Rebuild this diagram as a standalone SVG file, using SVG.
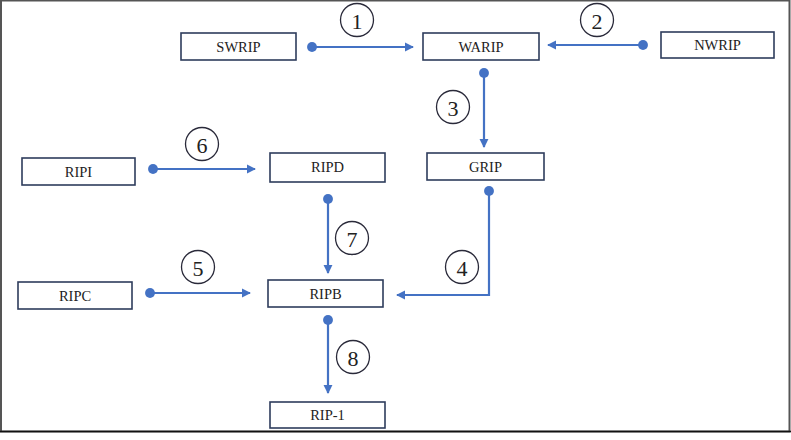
<svg xmlns="http://www.w3.org/2000/svg" width="791" height="440" viewBox="0 0 791 440">
<style>
.box{fill:#fff;stroke:#2e3c5c;stroke-width:1.6}
.lbl{font-family:"Liberation Serif","Times New Roman",serif;font-size:14.5px;fill:#222;text-anchor:middle;dominant-baseline:central}
.con{stroke:#4472c4;stroke-width:2.2;fill:none;marker-start:url(#dot);marker-end:url(#arr)}
.num{fill:#fff;stroke:#2a2a3a;stroke-width:1.3}
.numt{font-family:"Liberation Serif","Times New Roman",serif;font-size:22px;fill:#222;text-anchor:middle;dominant-baseline:central}
</style>
<defs>
<marker id="dot" viewBox="0 0 10 10" refX="5" refY="5" markerWidth="4.5" markerHeight="4.5" markerUnits="strokeWidth"><circle cx="5" cy="5" r="5" fill="#4472c4"/></marker>
<marker id="arr" viewBox="0 0 10 10" refX="9" refY="5" markerWidth="4.2" markerHeight="4.2" markerUnits="strokeWidth" orient="auto"><path d="M0,0 L10,5 L0,10 z" fill="#4472c4"/></marker>
</defs>
<rect x="0" y="0" width="791" height="440" fill="#fff"/>
<rect x="1" y="0.5" width="788.5" height="431" fill="none" stroke="#555" stroke-width="2"/>
<line x1="0" y1="431.5" x2="791" y2="431.5" stroke="#111" stroke-width="1.5"/>
<g id="connectors">
<line class="con" x1="312" y1="47" x2="413" y2="47"/>
<line class="con" x1="643" y1="45" x2="548" y2="45"/>
<line class="con" x1="484" y1="73" x2="484" y2="147"/>
<polyline class="con" points="489,191 489,295 397,295"/>
<line class="con" x1="153" y1="169" x2="255" y2="169"/>
<line class="con" x1="328" y1="199" x2="328" y2="273"/>
<line class="con" x1="150" y1="293" x2="250" y2="293"/>
<line class="con" x1="328" y1="320" x2="328" y2="393"/>
</g>
<g id="labels">
<g id="n1"><circle class="num" cx="357" cy="20" r="16.5"/><text class="numt" x="357" y="21">1</text></g>
<g id="n2"><circle class="num" cx="597" cy="20" r="16.5"/><text class="numt" x="597" y="21">2</text></g>
<g id="n3"><circle class="num" cx="453" cy="107" r="16.5"/><text class="numt" x="453" y="108">3</text></g>
<g id="n4"><circle class="num" cx="462" cy="267" r="16.5"/><text class="numt" x="462" y="268">4</text></g>
<g id="n5"><circle class="num" cx="198" cy="267" r="16.5"/><text class="numt" x="198" y="268">5</text></g>
<g id="n6"><circle class="num" cx="202" cy="144" r="16.5"/><text class="numt" x="202" y="145">6</text></g>
<g id="n7"><circle class="num" cx="352" cy="238" r="16.5"/><text class="numt" x="352" y="239">7</text></g>
<g id="n8"><circle class="num" cx="353" cy="357" r="16.5"/><text class="numt" x="353" y="358">8</text></g>
</g>
<g id="SWRIP"><rect class="box" x="181" y="33" width="115" height="27"/><text class="lbl" x="238.5" y="46.5">SWRIP</text></g>
<g id="WARIP"><rect class="box" x="423" y="33" width="116" height="27"/><text class="lbl" x="481" y="46.5">WARIP</text></g>
<g id="NWRIP"><rect class="box" x="661" y="32" width="113" height="26"/><text class="lbl" x="717.5" y="45">NWRIP</text></g>
<g id="GRIP"><rect class="box" x="427" y="153" width="117" height="27"/><text class="lbl" x="485.5" y="166.5">GRIP</text></g>
<g id="RIPI"><rect class="box" x="22" y="158" width="113" height="27"/><text class="lbl" x="78.5" y="171.5">RIPI</text></g>
<g id="RIPD"><rect class="box" x="270" y="153" width="115" height="29"/><text class="lbl" x="327.5" y="167">RIPD</text></g>
<g id="RIPC"><rect class="box" x="18" y="282" width="114" height="27"/><text class="lbl" x="75" y="295.5">RIPC</text></g>
<g id="RIPB"><rect class="box" x="268" y="280" width="115" height="27"/><text class="lbl" x="325.5" y="293.5">RIPB</text></g>
<g id="RIP-1"><rect class="box" x="270" y="402" width="115" height="26"/><text class="lbl" x="327.5" y="415">RIP-1</text></g>
</svg>
